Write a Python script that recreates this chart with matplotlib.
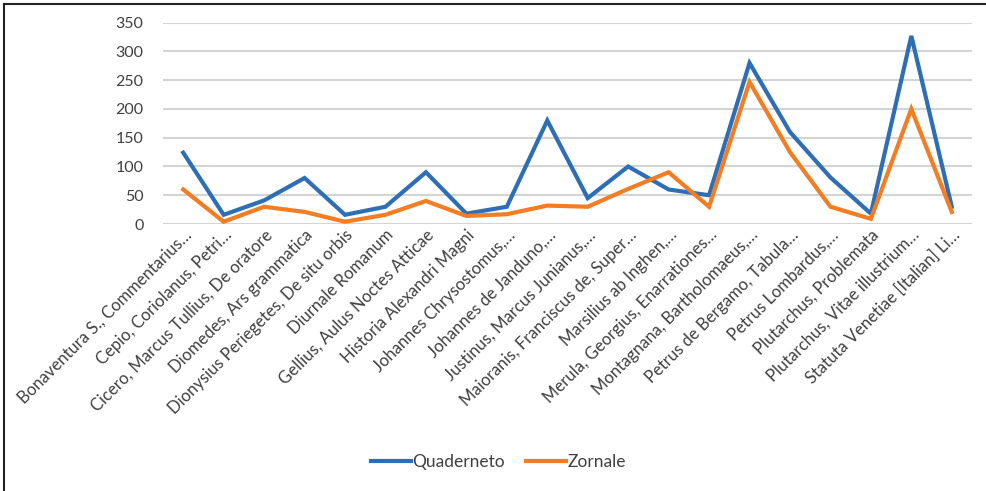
import matplotlib
matplotlib.use("Agg")
import matplotlib.pyplot as plt
from matplotlib.lines import Line2D

categories = [
    "Bonaventura S., Commentarius…",
    "Cepio, Coriolanus, Petri…",
    "Cicero, Marcus Tullius, De oratore",
    "Diomedes, Ars grammatica",
    "Dionysius Periegetes, De situ orbis",
    "Diurnale Romanum",
    "Gellius, Aulus Noctes Atticae",
    "Historia Alexandri Magni",
    "Johannes Chrysostomus,…",
    "Johannes de Janduno,…",
    "Justinus, Marcus Junianus,…",
    "Maioranis, Franciscus de, Super…",
    "Marsilius ab Inghen,…",
    "Merula, Georgius, Enarrationes…",
    "Montagnana, Bartholomaeus,…",
    "Petrus de Bergamo, Tabula…",
    "Petrus Lombardus,…",
    "Plutarchus, Problemata",
    "Plutarchus, Vitae illustrium…",
    "Statuta Venetiae [Italian] Li…",
]
quaderneto = [124, 16, 41, 80, 16, 30, 90, 18, 30, 180, 45, 100, 60, 50, 280, 160, 81, 18, 327, 30]
zornale = [60, 4, 30, 21, 4, 16, 40, 14, 17, 32, 30, 61, 90, 30, 247, 125, 30, 9, 200, 21]
yticks = [0, 50, 100, 150, 200, 250, 300, 350]

plt.rcParams['font.family'] = ['Lato', 'DejaVu Sans']

fig = plt.figure(figsize=(9.87, 4.91), dpi=100)
ax = fig.add_axes([163/987, 1-224/491, (972-163)/987, (224-22.7)/491])

x = list(range(len(categories)))
ax.plot(x, quaderneto, color='#2E6EB6', lw=3.0, label='Quaderneto', solid_joinstyle='miter', zorder=3)
ax.plot(x, zornale, color='#F47C22', lw=3.0, label='Zornale', solid_joinstyle='miter', zorder=3)

ax.set_xlim(-0.5, len(categories) - 0.5)
ax.set_ylim(0, 350)
ax.set_yticks(yticks)
ax.set_yticklabels([str(v) for v in yticks], fontsize=11.5, color='#404040')
ax.yaxis.grid(True, color='#D4D4D4', lw=1.5)
ax.set_axisbelow(True)
for s in ax.spines.values():
    s.set_visible(False)
ax.tick_params(axis='y', length=0, pad=14)
ax.tick_params(axis='x', length=0, pad=2)
ax.set_xticks(x)
ax.set_xticklabels(categories, rotation=45, ha='right', rotation_mode='anchor',
                   fontsize=12, color='#404040')

leg = fig.legend(loc='center', bbox_to_anchor=(0.505, 1-462/491), ncol=2, frameon=False,
                 fontsize=12.5, handlelength=2.3, handletextpad=0.1, columnspacing=1.2)
for t in leg.get_texts():
    t.set_color('#404040')

fig.add_artist(Line2D([4/987, 1], [1-4/491, 1-4/491], transform=fig.transFigure,
                      color='#222222', lw=1.5))
fig.add_artist(Line2D([4/987, 4/987], [0, 1-4/491], transform=fig.transFigure,
                      color='#222222', lw=1.5))

fig.savefig('out.png', dpi=100)
